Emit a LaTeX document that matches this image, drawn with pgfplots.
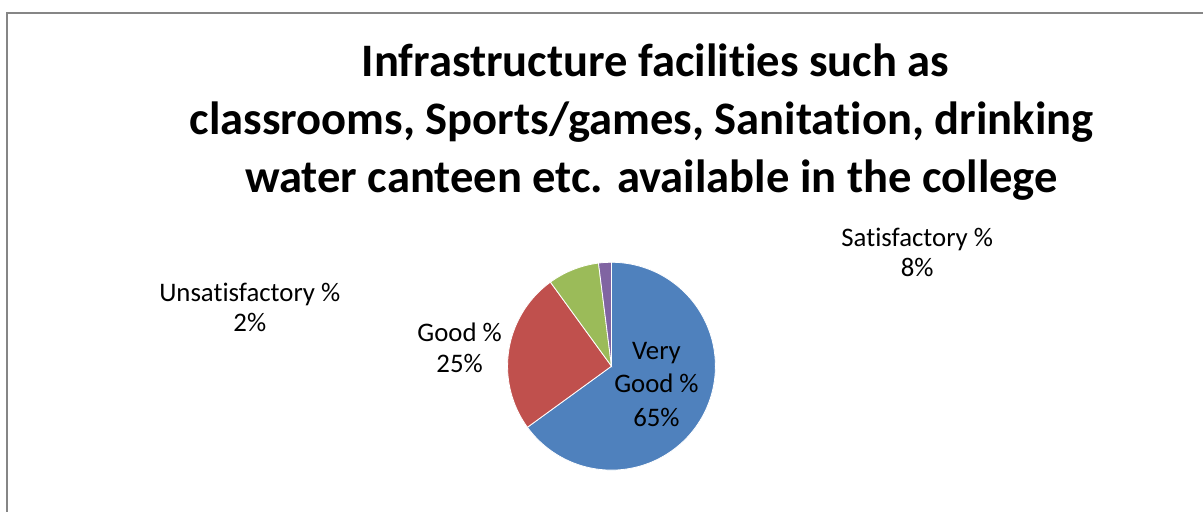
\documentclass[border=0pt]{standalone}
\usepackage{pgfplots}
\pgfplotsset{compat=1.18}
\usepackage{fontspec}
\setmainfont{Carlito}[Ligatures={NoCommon,NoContextual}]
\definecolor{c1}{HTML}{4F81BD}
\definecolor{c2}{HTML}{C0504D}
\definecolor{c3}{HTML}{9BBB59}
\definecolor{c4}{HTML}{8064A2}
\definecolor{frame}{HTML}{868686}
\begin{document}
\begin{tikzpicture}
\begin{axis}[width=1204pt,height=512pt,scale only axis,hide axis,
  xmin=0,xmax=1204,ymin=0,ymax=512,clip=false]
\path (axis cs:0,0) rectangle (axis cs:1204,512);
\draw[frame,line width=2pt] (axis cs:7.5,0) -- (axis cs:7.5,498.5) -- (axis cs:1204,498.5);
% pie: shares 65, 25, 8, 2 (percent), clockwise from 12 o'clock
\addplot[fill=c1,draw=white,line width=0.8pt,domain={90-3.6*65}:90,samples=120]
  ({612+104*cos(x)},{145.5+104*sin(x)}) -- (axis cs:612,145.5) -- cycle;
\addplot[fill=c2,draw=white,line width=0.8pt,domain={90-3.6*(65+25)}:{90-3.6*65},samples=60]
  ({612+104*cos(x)},{145.5+104*sin(x)}) -- (axis cs:612,145.5) -- cycle;
\addplot[fill=c3,draw=white,line width=0.8pt,domain={90-3.6*(65+25+8)}:{90-3.6*(65+25)},samples=30]
  ({612+104*cos(x)},{145.5+104*sin(x)}) -- (axis cs:612,145.5) -- cycle;
\addplot[fill=c4,draw=white,line width=0.8pt,domain={90-3.6*100}:{90-3.6*(65+25+8)},samples=10]
  ({612+104*cos(x)},{145.5+104*sin(x)}) -- (axis cs:612,145.5) -- cycle;
% title
\begin{scope}[every node/.style={anchor=base,inner sep=0pt,font=\fontsize{46.6}{58}\selectfont\bfseries}]
\node at (axis cs:656,435) {Infrastructure facilities such as};
\node at (axis cs:642,377) {classrooms, Sports/games, Sanitation, drinking};
\node at (axis cs:652,319) {water canteen etc. available in the college};
\end{scope}
\begin{scope}[every node/.style={anchor=base,inner sep=0pt,font=\fontsize{26.8}{32}\selectfont}]
\node at (axis cs:918,265) {Satisfactory \%};
\node at (axis cs:918,235) {8\%};
\node at (axis cs:250,210) {Unsatisfactory \%};
\node at (axis cs:250,180) {2\%};
\node at (axis cs:460,170) {Good \%};
\node at (axis cs:460,139) {25\%};
\node at (axis cs:657,152) {Very};
\node at (axis cs:657,119) {Good \%};
\node at (axis cs:657,85) {65\%};
\end{scope}
\end{axis}
\end{tikzpicture}
\end{document}
